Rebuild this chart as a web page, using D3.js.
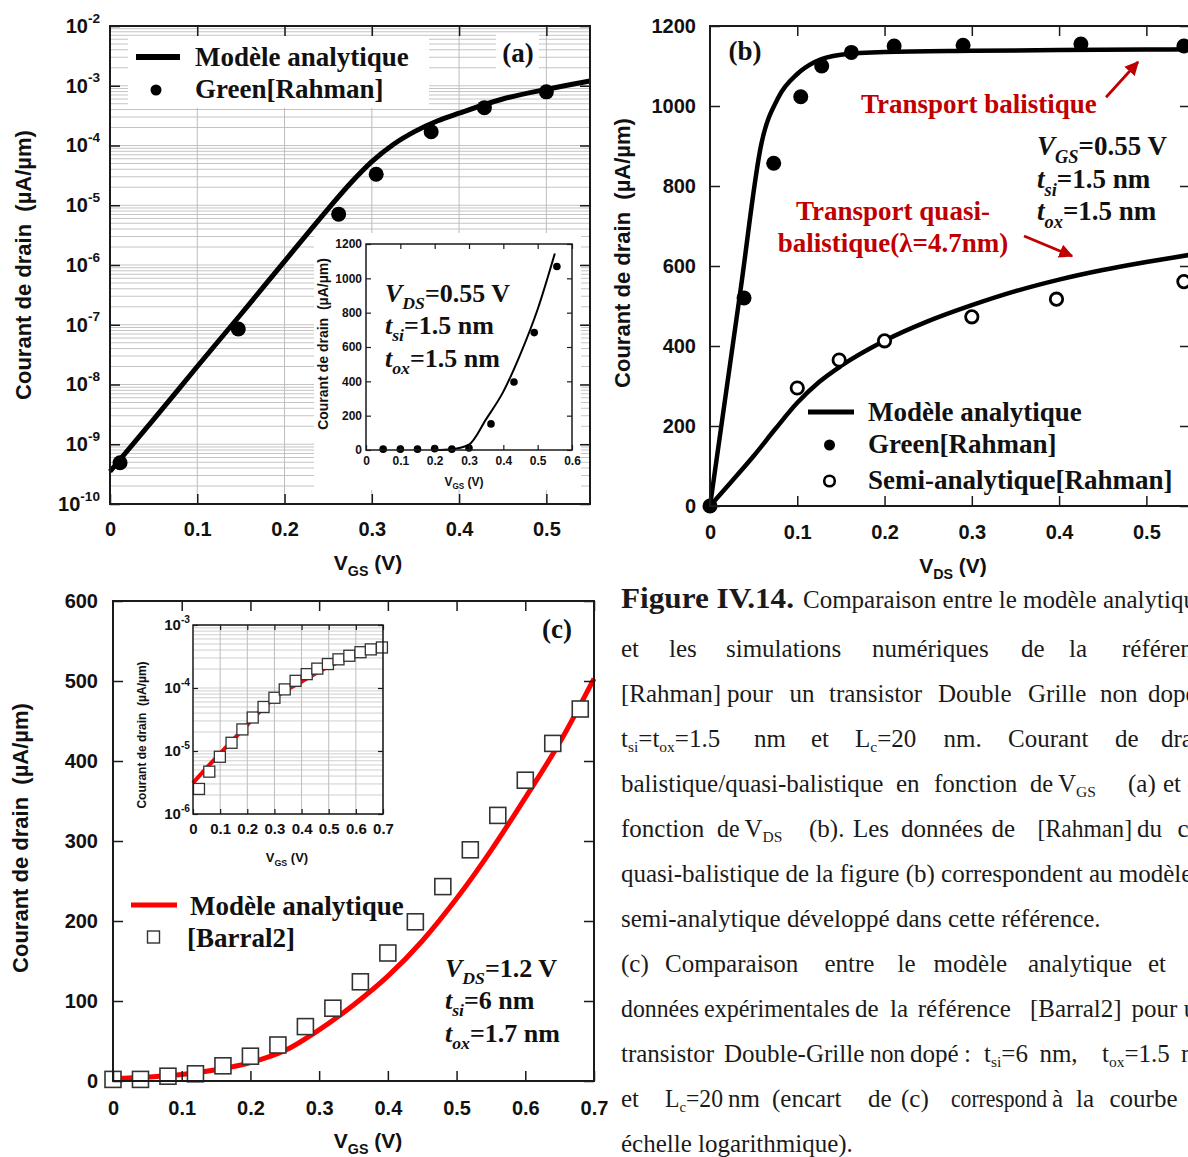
<!DOCTYPE html>
<html><head><meta charset="utf-8">
<script src="https://cdn.jsdelivr.net/npm/d3@7"></script>
<style>html,body{margin:0;padding:0;background:#fff;overflow:hidden}svg{display:block}</style>
</head><body>
<svg id="fig" width="1188" height="1157"></svg>
<script>
// ================= DATA =================
// (a) log Id vs VGS, VDS=0.55 V
const aModelVgs = [0, 0.05, 0.1, 0.15, 0.2, 0.25, 0.275, 0.3, 0.325, 0.35, 0.375, 0.4, 0.45, 0.5, 0.55];
const aModelId  = [3.5e-10, 2.6e-9, 2.0e-8, 1.5e-7, 1.15e-6, 8.7e-6, 2.29e-5, 5.37e-5, 1.05e-4, 1.74e-4, 2.57e-4, 3.47e-4, 6.0e-4, 8.7e-4, 1.2e-3];
const aGreenVgs = [0.0115, 0.147, 0.262, 0.305, 0.368, 0.429, 0.5];
const aGreenId  = [4.9e-10, 8.5e-8, 7.1e-6, 3.3e-5, 1.7e-4, 4.3e-4, 7.9e-4];
const aYTicks   = [1e-10, 1e-9, 1e-8, 1e-7, 1e-6, 1e-5, 1e-4, 1e-3, 1e-2];
const aXTicks   = [0, 0.1, 0.2, 0.3, 0.4, 0.5];
// (a) inset, linear
const aInModelVgs = [0.2, 0.25, 0.3, 0.35, 0.4, 0.45, 0.5, 0.55];
const aInModelId  = [0, 5, 32, 180, 340, 560, 820, 1145];
const aInGreenVgs = [0.05, 0.1, 0.15, 0.2, 0.25, 0.3, 0.364, 0.431, 0.49, 0.556];
const aInGreenId  = [5, 5, 5, 8, 5, 12, 152, 396, 684, 1069];
const aInXTicks = [0, 0.1, 0.2, 0.3, 0.4, 0.5, 0.6];
const aInYTicks = [0, 200, 400, 600, 800, 1000, 1200];
// (b) Id vs VDS, VGS=0.55 V
const bBalModelVds = [0, 0.035, 0.059, 0.078, 0.1, 0.12, 0.15, 0.2, 0.3, 0.4, 0.5, 0.55];
const bBalModelId  = [0, 540, 907, 1020, 1080, 1110, 1128, 1135, 1138, 1140, 1141, 1142];
const bQuasiModelVds = [0, 0.025, 0.05, 0.075, 0.1, 0.125, 0.15, 0.2, 0.25, 0.3, 0.35, 0.4, 0.45, 0.5, 0.55];
const bQuasiModelId  = [0, 62, 125, 193, 258, 310, 350, 413, 462, 502, 537, 566, 590, 610, 628];
const bGreenVds = [0, 0.039, 0.073, 0.104, 0.128, 0.162, 0.211, 0.29, 0.425, 0.543];
const bGreenId  = [0, 520, 857, 1023, 1100, 1134, 1150, 1152, 1155, 1150];
const bSemiVds  = [0.1, 0.148, 0.2, 0.3, 0.397, 0.543];
const bSemiId   = [295, 365, 413, 473, 517, 561];
const bXTicks = [0, 0.1, 0.2, 0.3, 0.4, 0.5];
const bYTicks = [0, 200, 400, 600, 800, 1000, 1200];
// (c) Id vs VGS, VDS=1.2 V
const cModelVgs = [0, 0.05, 0.1, 0.15, 0.2, 0.25, 0.3, 0.35, 0.4, 0.45, 0.5, 0.55, 0.6, 0.65, 0.7];
const cModelId  = [3, 5, 8, 14, 23, 38, 64, 95, 131, 175, 228, 288, 354, 423, 503];
const cBarralVgs = [0, 0.04, 0.08, 0.12, 0.16, 0.2, 0.24, 0.28, 0.32, 0.36, 0.4, 0.44, 0.48, 0.52, 0.56, 0.6, 0.64, 0.68];
const cBarralId  = [2, 2, 6, 9, 19, 31, 45, 68, 91, 124, 160, 199, 243, 289, 332, 376, 422, 465];
const cXTicks = [0, 0.1, 0.2, 0.3, 0.4, 0.5, 0.6, 0.7];
const cYTicks = [0, 100, 200, 300, 400, 500, 600];
// (c) inset, log
const cInModelVgs = [0, 0.05, 0.1, 0.15, 0.2, 0.25, 0.3, 0.4, 0.5, 0.6, 0.7];
const cInModelId  = [3.1e-6, 5.4e-6, 9.1e-6, 1.55e-5, 2.6e-5, 4.4e-5, 6.9e-5, 1.26e-4, 2.2e-4, 3.3e-4, 4.4e-4];
const cInBarralVgs = [0.022, 0.06, 0.099, 0.142, 0.182, 0.22, 0.26, 0.3, 0.338, 0.378, 0.419, 0.458, 0.497, 0.536, 0.576, 0.617, 0.655, 0.696];
const cInBarralId  = [2.5e-6, 4.7e-6, 8.1e-6, 1.35e-5, 2.2e-5, 3.4e-5, 5.0e-5, 7.0e-5, 9.5e-5, 1.3e-4, 1.66e-4, 2.03e-4, 2.4e-4, 2.85e-4, 3.25e-4, 3.7e-4, 4.1e-4, 4.4e-4];
const cInXTicks = [0, 0.1, 0.2, 0.3, 0.4, 0.5, 0.6, 0.7];
const cInYTicks = [1e-6, 1e-5, 1e-4, 1e-3];
// annotation arrows in (b), data coordinates [x0,y0,x1,y1]
const bArrowBal   = [0.4538, 1022, 0.4904, 1110];
const bArrowQuasi = [0.3598, 675, 0.4148, 625];

// ================= SETUP =================
const svg = d3.select("#fig");
const SANS = "'Liberation Sans', Arial, Helvetica, sans-serif";
const SERIF = "'Liberation Serif', 'Times New Roman', Times, serif";
const AX = "#1a1a1a";
const RED = "#ff0000";
const DRED = "#c00000";
const fmtLin = d => d3.format("~g")(d);

function zip(a, b) { return a.map((v, i) => [v, b[i]]); }

function styleAxis(sel, size, sw) {
  sel.select(".domain").remove();
  sel.attr("font-family", SANS).attr("font-size", size).attr("font-weight", "bold");
  sel.selectAll(".tick line").attr("stroke", AX).attr("stroke-width", sw || 1.5);
  sel.selectAll(".tick text").attr("fill", "#111");
}

function axes(g, x, y, o) {
  const [x0, x1] = x.range(), [y0, y1] = y.range();
  const b = g.append("g").attr("transform", `translate(0,${y0})`)
    .call(d3.axisBottom(x).tickValues(o.xTicks).tickFormat(o.xFmt).tickSize(-o.tick).tickSizeOuter(0).tickPadding(o.xPad));
  styleAxis(b, o.size, o.tw);
  const t = g.append("g").attr("transform", `translate(0,${y1})`)
    .call(d3.axisTop(x).tickValues(o.xTicks.filter(v => v !== x.domain()[0])).tickFormat("").tickSize(-o.tick).tickSizeOuter(0));
  styleAxis(t, o.size, o.tw);
  const l = g.append("g").attr("transform", `translate(${x0},0)`)
    .call(d3.axisLeft(y).tickValues(o.yTicks).tickFormat(o.logY ? "" : o.yFmt).tickSize(-o.tick).tickSizeOuter(0).tickPadding(o.yPad));
  styleAxis(l, o.size, o.tw);
  if (o.logY) {
    l.selectAll(".tick text").each(function (d) {
      const e = Math.round(Math.log10(d));
      const s = d3.select(this); s.text(null);
      s.append("tspan").text("10");
      s.append("tspan").attr("dy", "-0.75em").attr("font-size", o.size * 0.68).text(e);
    });
  }
  const r = g.append("g").attr("transform", `translate(${x1},0)`)
    .call(d3.axisRight(y).tickValues(o.yTicks).tickFormat("").tickSize(-o.tick).tickSizeOuter(0));
  styleAxis(r, o.size, o.tw);
  g.append("rect").attr("x", x0).attr("y", y1).attr("width", x1 - x0).attr("height", y0 - y1)
    .attr("fill", "none").attr("stroke", AX).attr("stroke-width", o.fw || 2);
}

function yTitle(g, x, cy, size) {
  g.append("text").attr("transform", `translate(${x},${cy}) rotate(-90)`)
    .attr("text-anchor", "middle").attr("font-family", SANS).attr("font-weight", "bold")
    .attr("font-size", size).style("white-space", "pre").attr("fill", "#111")
    .text("Courant de drain  (µA/µm)");
}
function xTitle(g, cx, y, sub, size) {
  const t = g.append("text").attr("x", cx).attr("y", y).attr("text-anchor", "middle")
    .attr("font-family", SANS).attr("font-weight", "bold").attr("font-size", size)
    .style("white-space", "pre").attr("fill", "#111");
  t.append("tspan").text("V");
  t.append("tspan").attr("font-size", size * 0.68).attr("dy", size * 0.28).text(sub);
  t.append("tspan").attr("dy", -size * 0.28).text(" (V)");
}
function param(g, x, y, main, sub, rest, size) {
  const t = g.append("text").attr("x", x).attr("y", y).attr("font-family", SERIF)
    .attr("font-weight", "bold").attr("font-size", size).attr("fill", "#111").style("white-space", "pre");
  t.append("tspan").attr("font-style", "italic").text(main);
  t.append("tspan").attr("font-style", "italic").attr("font-size", size * 0.68).attr("dy", size * 0.28).text(sub);
  t.append("tspan").attr("dy", -size * 0.28).text(rest);
}
function serifText(g, x, y, str, size, color, anchor) {
  return g.append("text").attr("x", x).attr("y", y).attr("font-family", SERIF).attr("font-weight", "bold")
    .attr("font-size", size).attr("fill", color || "#111").attr("text-anchor", anchor || "start").text(str);
}

// ================= PANEL (a) =================
const gA = svg.append("g");
const xA = d3.scaleLinear([0, 0.55], [110, 590]);
const yA = d3.scaleLog([1e-10, 1e-2], [504, 26]);
gA.append("g").selectAll("line").data(yA.ticks()).join("line")
  .attr("x1", 110).attr("x2", 590).attr("y1", d => yA(d)).attr("y2", d => yA(d))
  .attr("stroke", "#c4c4c4").attr("stroke-width", 1);
gA.append("g").selectAll("line").data(aXTicks.slice(1)).join("line")
  .attr("x1", d => xA(d)).attr("x2", d => xA(d)).attr("y1", 26).attr("y2", 504)
  .attr("stroke", "#bdbdbd").attr("stroke-width", 1);
gA.append("rect").attr("x", 128).attr("y", 36).attr("width", 301).attr("height", 72).attr("fill", "#fff");
gA.append("rect").attr("x", 496).attr("y", 33).attr("width", 43).attr("height", 37).attr("fill", "#fff");
gA.append("rect").attr("x", 314).attr("y", 233).attr("width", 267).attr("height", 257).attr("fill", "#fff");
gA.append("path").datum(zip(aModelVgs, aModelId))
  .attr("d", d3.line().x(d => xA(d[0])).y(d => yA(d[1])).curve(d3.curveMonotoneX))
  .attr("fill", "none").attr("stroke", "#000").attr("stroke-width", 5);
gA.append("g").selectAll("circle").data(zip(aGreenVgs, aGreenId)).join("circle")
  .attr("cx", d => xA(d[0])).attr("cy", d => yA(d[1])).attr("r", 7.5).attr("fill", "#000");
axes(gA, xA, yA, { xTicks: aXTicks, yTicks: aYTicks, xFmt: fmtLin, logY: true, tick: 10, size: 20, xPad: 18, yPad: 10 });
gA.append("line").attr("x1", 136).attr("x2", 180).attr("y1", 57).attr("y2", 57).attr("stroke", "#000").attr("stroke-width", 6);
serifText(gA, 195, 66, "Modèle analytique", 27);
gA.append("circle").attr("cx", 156).attr("cy", 90).attr("r", 5.5).attr("fill", "#000");
serifText(gA, 195, 98, "Green[Rahman]", 27);
serifText(gA, 518, 62, "(a)", 27, "#111", "middle");
yTitle(gA, 31, 265, 22);
xTitle(gA, 368, 570, "GS", 21);

// ---- inset (a)
const gAi = svg.append("g");
const xAi = d3.scaleLinear([0, 0.6], [366, 572]);
const yAi = d3.scaleLinear([0, 1200], [450, 244]);
gAi.append("path").datum(zip(aInModelVgs, aInModelId))
  .attr("d", d3.line().x(d => xAi(d[0])).y(d => yAi(d[1])).curve(d3.curveMonotoneX))
  .attr("fill", "none").attr("stroke", "#000").attr("stroke-width", 2);
gAi.append("g").selectAll("circle").data(zip(aInGreenVgs, aInGreenId)).join("circle")
  .attr("cx", d => xAi(d[0])).attr("cy", d => yAi(d[1])).attr("r", 3.8).attr("fill", "#000");
axes(gAi, xAi, yAi, { xTicks: aInXTicks, yTicks: aInYTicks, xFmt: fmtLin, yFmt: fmtLin, tick: 5, size: 12, xPad: 6, yPad: 4, tw: 1.2, fw: 1.5 });
param(gAi, 385, 302, "V", "DS", "=0.55 V", 26);
param(gAi, 385, 334, "t", "si", "=1.5 nm", 26);
param(gAi, 385, 367, "t", "ox", "=1.5 nm", 26);
yTitle(gAi, 328, 344, 14);
xTitle(gAi, 464, 486, "GS", 12);

// ================= PANEL (b) =================
const gB = svg.append("g");
const xB = d3.scaleLinear([0, 0.55], [710, 1190]);
const yB = d3.scaleLinear([0, 1200], [506, 26]);
const lineB = d3.line().x(d => xB(d[0])).y(d => yB(d[1])).curve(d3.curveMonotoneX);
gB.append("path").datum(zip(bBalModelVds, bBalModelId)).attr("d", lineB)
  .attr("fill", "none").attr("stroke", "#000").attr("stroke-width", 4.5);
gB.append("path").datum(zip(bQuasiModelVds, bQuasiModelId)).attr("d", lineB)
  .attr("fill", "none").attr("stroke", "#000").attr("stroke-width", 4.5);
gB.append("g").selectAll("circle").data(zip(bSemiVds, bSemiId)).join("circle")
  .attr("cx", d => xB(d[0])).attr("cy", d => yB(d[1])).attr("r", 6.2)
  .attr("fill", "#fff").attr("stroke", "#000").attr("stroke-width", 2.8);
gB.append("g").selectAll("circle").data(zip(bGreenVds, bGreenId)).join("circle")
  .attr("cx", d => xB(d[0])).attr("cy", d => yB(d[1])).attr("r", 7.5).attr("fill", "#000");
axes(gB, xB, yB, { xTicks: bXTicks, yTicks: bYTicks, xFmt: fmtLin, yFmt: fmtLin, tick: 10, size: 20, xPad: 19, yPad: 14 });
gB.append("line").attr("x1", 808).attr("x2", 854).attr("y1", 412).attr("y2", 412).attr("stroke", "#000").attr("stroke-width", 5);
serifText(gB, 868, 421, "Modèle analytique", 27);
gB.append("circle").attr("cx", 829.5).attr("cy", 445).attr("r", 5.5).attr("fill", "#000");
serifText(gB, 868, 453, "Green[Rahman]", 27);
gB.append("circle").attr("cx", 829.5).attr("cy", 481).attr("r", 5.3).attr("fill", "#fff").attr("stroke", "#000").attr("stroke-width", 2.6);
serifText(gB, 868, 489, "Semi-analytique[Rahman]", 27);
serifText(gB, 745, 60, "(b)", 27, "#111", "middle");
serifText(gB, 861, 113, "Transport balistique", 27, DRED);
serifText(gB, 893, 220, "Transport quasi-", 27, DRED, "middle");
serifText(gB, 893, 252, "balistique(λ=4.7nm)", 27, DRED, "middle");
param(gB, 1037, 155, "V", "GS", "=0.55 V", 27);
param(gB, 1037, 188, "t", "si", "=1.5 nm", 27);
param(gB, 1037, 220, "t", "ox", "=1.5 nm", 27);
const defs = svg.append("defs");
defs.append("marker").attr("id", "ah").attr("viewBox", "0 0 10 10").attr("refX", 9).attr("refY", 5)
  .attr("markerWidth", 5).attr("markerHeight", 5).attr("orient", "auto")
  .append("path").attr("d", "M0,0 L10,5 L0,10 z").attr("fill", DRED);
[bArrowBal, bArrowQuasi].forEach(a => {
  gB.append("line").attr("x1", xB(a[0])).attr("y1", yB(a[1])).attr("x2", xB(a[2])).attr("y2", yB(a[3]))
    .attr("stroke", DRED).attr("stroke-width", 2.8).attr("marker-end", "url(#ah)");
});
yTitle(gB, 630, 253, 22);
xTitle(gB, 953, 573, "DS", 21);

// ================= PANEL (c) =================
const gC = svg.append("g");
const xC = d3.scaleLinear([0, 0.7], [113, 594]);
const yC = d3.scaleLinear([0, 600], [1081, 601]);
gC.append("path").datum(zip(cModelVgs, cModelId))
  .attr("d", d3.line().x(d => xC(d[0])).y(d => yC(d[1])).curve(d3.curveMonotoneX))
  .attr("fill", "none").attr("stroke", RED).attr("stroke-width", 5);
gC.append("g").selectAll("rect").data(zip(cBarralVgs, cBarralId)).join("rect")
  .attr("x", d => xC(d[0]) - 8).attr("y", d => yC(d[1]) - 8).attr("width", 16).attr("height", 16)
  .attr("fill", "#fff").attr("stroke", "#333").attr("stroke-width", 1.6);
axes(gC, xC, yC, { xTicks: cXTicks, yTicks: cYTicks, xFmt: fmtLin, yFmt: fmtLin, tick: 10, size: 20, xPad: 20, yPad: 15 });
gC.append("line").attr("x1", 131).attr("x2", 177).attr("y1", 905).attr("y2", 905).attr("stroke", RED).attr("stroke-width", 5);
serifText(gC, 190, 915, "Modèle analytique", 27);
gC.append("rect").attr("x", 147.5).attr("y", 931).attr("width", 12).attr("height", 12)
  .attr("fill", "#fff").attr("stroke", "#333").attr("stroke-width", 1.4);
serifText(gC, 187, 947, "[Barral2]", 27);
serifText(gC, 557, 638, "(c)", 27, "#111", "middle");
param(gC, 445, 977, "V", "DS", "=1.2 V", 26);
param(gC, 445, 1009, "t", "si", "=6 nm", 26);
param(gC, 445, 1042, "t", "ox", "=1.7 nm", 26);
yTitle(gC, 28, 838, 22);
xTitle(gC, 368, 1148, "GS", 21);

// ---- inset (c)
const gCi = svg.append("g");
const xCi = d3.scaleLinear([0, 0.7], [193, 383]);
const yCi = d3.scaleLog([1e-6, 1e-3], [814, 625]);
gCi.append("rect").attr("x", 130).attr("y", 612).attr("width", 266).attr("height", 258).attr("fill", "#fff");
gCi.append("g").selectAll("line").data(yCi.ticks()).join("line")
  .attr("x1", 193).attr("x2", 383).attr("y1", d => yCi(d)).attr("y2", d => yCi(d))
  .attr("stroke", "#cfcfcf").attr("stroke-width", 1);
gCi.append("g").selectAll("line").data(cInXTicks.slice(1)).join("line")
  .attr("x1", d => xCi(d)).attr("x2", d => xCi(d)).attr("y1", 625).attr("y2", 814)
  .attr("stroke", "#bdbdbd").attr("stroke-width", 1);
gCi.append("path").datum(zip(cInModelVgs, cInModelId))
  .attr("d", d3.line().x(d => xCi(d[0])).y(d => yCi(d[1])).curve(d3.curveMonotoneX))
  .attr("fill", "none").attr("stroke", RED).attr("stroke-width", 4);
gCi.append("g").selectAll("rect").data(zip(cInBarralVgs, cInBarralId)).join("rect")
  .attr("x", d => xCi(d[0]) - 5.5).attr("y", d => yCi(d[1]) - 5.5).attr("width", 11).attr("height", 11)
  .attr("fill", "#fff").attr("stroke", "#333").attr("stroke-width", 1.3);
axes(gCi, xCi, yCi, { xTicks: cInXTicks, yTicks: cInYTicks, xFmt: fmtLin, logY: true, tick: 5, size: 15, xPad: 9, yPad: 3, tw: 1.2, fw: 1.5 });
yTitle(gCi, 146, 735, 12);
xTitle(gCi, 287, 862, "GS", 13);

// ================= CAPTION =================
const gT = svg.append("g").attr("font-family", SERIF).attr("fill", "#1a1a1a");
function rich(x, y, str, size, bold) {
  const t = gT.append("text").attr("x", x).attr("y", y).attr("font-size", size)
    .attr("font-weight", bold ? "bold" : "normal").style("white-space", "pre");
  const parts = str.split(/(_\{[^}]*\})/);
  let shifted = false;
  parts.forEach(p => {
    if (!p) return;
    if (p.startsWith("_{")) {
      t.append("tspan").attr("font-size", size * 0.62).attr("dy", size * 0.2).text(p.slice(2, -1));
      shifted = true;
    } else {
      const s = t.append("tspan").text(p);
      if (shifted) { s.attr("dy", -size * 0.2); shifted = false; }
    }
  });
  return t;
}
const CAP = 25;
const capLines = [
  [608, [[621, "Figure IV.14.", 1], [803, "Comparaison entre le modèle analytique"]]],
  [657, [[621, "et"], [669, "les"], [726, "simulations"], [872, "numériques"], [1021, "de"], [1069, "la"], [1122, "référence"]]],
  [702, [[621, "[Rahman]"], [727, "pour"], [789.5, "un"], [829, "transistor"], [938, "Double"], [1028, "Grille"], [1100, "non"], [1148, "dopé :"]]],
  [747, [[621, "t_{si}=t_{ox}=1.5"], [754, "nm"], [811, "et"], [855, "L_{c}=20"], [943.6, "nm."], [1008, "Courant"], [1115, "de"], [1161, "drain"]]],
  [792, [[621, "balistique/quasi-balistique"], [896, "en"], [934, "fonction"], [1030, "de"], [1058, "V_{GS}"], [1128, "(a)"], [1163, "et en"]]],
  [837, [[621, "fonction"], [717, "de"], [744.5, "V_{DS}"], [809, "(b)."], [853, "Les"], [901, "données"], [991.5, "de"], [1037.6, "[Rahman]"], [1137, "du"], [1177.6, "cas"]]],
  [882, [[621, "quasi-balistique de la figure (b) correspondent au modèle"]]],
  [927, [[621, "semi-analytique développé dans cette référence."]]],
  [972, [[621, "(c)"], [665, "Comparaison"], [824.5, "entre"], [897.5, "le"], [933.6, "modèle"], [1028, "analytique"], [1148, "et"], [1200, "les"]]],
  [1017, [[621, "données"], [704, "expérimentales"], [855, "de"], [890, "la"], [917.8, "référence"], [1030, "[Barral2]"], [1131.6, "pour un"]]],
  [1062, [[621, "transistor"], [724, "Double-Grille"], [870, "non"], [910, "dopé"], [964, ":"], [984, "t_{si}=6"], [1039.4, "nm,"], [1102, "t_{ox}=1.5"], [1181, "nm"]]],
  [1107, [[621, "et"], [665, "L_{c}=20"], [728, "nm"], [772, "(encart"], [868, "de"], [901, "(c)"], [951, "correspond"], [1052, "à"], [1076, "la"], [1109.5, "courbe"], [1200, "en"]]],
  [1152, [[621, "échelle logarithmique)."]]]
];
capLines.forEach(([y, segs]) => segs.forEach(([x, s, b], i) => {
  const size = b ? 30 : CAP;
  const t = rich(x, y, s, size, !!b);
  if (b) { t.attr("textLength", 173).attr("lengthAdjust", "spacingAndGlyphs"); return; }
  if (i < segs.length - 1) {
    const avail = segs[i + 1][0] - x - size * 0.2;
    const len = t.node().getComputedTextLength();
    if (len > avail) t.attr("textLength", avail).attr("lengthAdjust", "spacingAndGlyphs");
  }
}));
</script>
</body></html>
